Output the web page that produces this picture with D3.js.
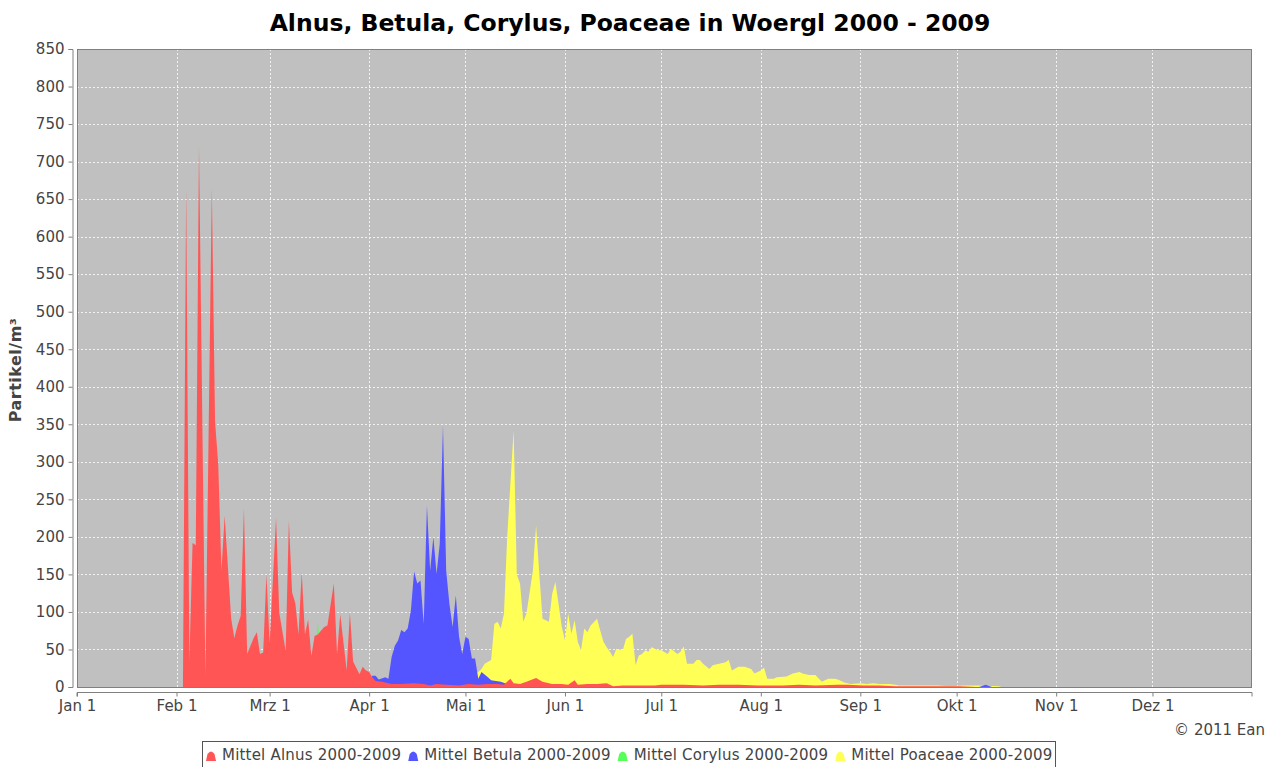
<!DOCTYPE html>
<html>
<head>
<meta charset="utf-8">
<script src="https://cdn.jsdelivr.net/npm/d3@7"></script>
<style>
  body { margin: 0; background: #fff; }
  text { font-family: "DejaVu Sans", sans-serif; }
</style>
</head>
<body>
<svg width="1274" height="767"></svg>
<script>
// day of year (0 = Jan 1, leap year) and mean particles per m³
var alnus = [[32,0],[33,0],[34,664],[35,34],[36,192],[37,189],[38,720],[40,15],[42,664],[43,354],[44,296],
  [45,155],[46,228],[48,92],[49,65],[50,82],[51,95],[52,238],[53,44],[55,65],[56,73],[57,44],[58,46],[59,150],
  [60,58],[62,225],[63,99],[65,48],[66,221],[67,126],[68,112],[69,70],[70,153],[71,70],[72,90],[73,41],[74,68],
  [75,70],[77,80],[78,82],[80,138],[81,44],[82,97],[84,22],[85,99],[86,34],[88,17],[89,27],[90,22],[91,20],
  [92,13],[93,8],[95,7],[98,4],[101,4],[105,5],[108,4],[110,2],[112,4],[115,3],[119,2],[122,4],[125,3],[128,4],
  [131,4],[133,3],[135,11],[136,5],[138,4],[140,7],[143,12],[145,7],[148,4],[151,4],[153,3],[155,9],[156,3],
  [159,4],[162,4],[165,5],[167,1],[170,2],[175,2],[180,2],[182,3],[185,3],[189,3],[195,2],[200,3],[206,3],
  [212,2],[220,2],[225,3],[230,2],[237,3],[240,3],[245,2],[250,2],[255,1],[265,1],[275,1],[280,0]];

var betula = [[90,0],[92,15],[93,15],[94,10],[96,13],[97,11],[98,40],[99,55],[100,62],[101,76],[102,73],
  [103,78],[104,102],[105,154],[106,138],[107,142],[108,84],[109,242],[110,155],[111,200],[112,151],[113,191],
  [114,348],[115,155],[116,111],[117,80],[118,122],[119,67],[120,44],[121,67],[122,64],[123,38],[124,38],
  [125,11],[126,20],[128,13],[129,9],[132,7],[134,4],[136,2],[138,0],[281,0],[283,3],[285,0]];

var corylus = [[36,0],[38,5],[40,8],[50,10],[60,12],[70,15],[74,30],[75,88],[76,40],[80,10],[84,8],[90,4],
  [100,0],[222,0],[224,3],[226,0]];

var poaceae = [[121,0],[123,10],[124,18],[125,20],[126,24],[127,31],[129,36],[130,84],[131,87],[132,78],
  [133,98],[134,200],[136,342],[137,150],[138,138],[139,87],[140,98],[142,155],[143,215],[144,151],[145,91],
  [147,87],[148,124],[149,140],[150,111],[151,80],[152,62],[153,98],[154,71],[155,89],[156,60],[157,49],
  [158,78],[159,73],[160,82],[162,91],[163,75],[164,60],[165,53],[166,47],[167,40],[168,51],[170,49],[171,64],
  [172,67],[173,71],[174,29],[175,42],[176,44],[177,49],[178,47],[179,53],[181,49],[182,49],[184,44],[185,51],
  [187,44],[188,47],[189,54],[190,31],[192,31],[193,36],[194,36],[195,31],[197,24],[198,29],[200,31],[202,33],
  [203,36],[204,22],[206,27],[208,27],[210,24],[211,18],[213,22],[214,26],[215,11],[217,11],[218,13],[221,14],
  [223,18],[225,20],[226,18],[228,16],[230,16],[232,7],[234,11],[236,11],[237,10],[239,6],[241,4],[244,5],
  [246,4],[248,5],[250,4],[253,4],[255,3],[256,2],[262,2],[268,2],[272,1],[276,2],[281,2],[287,1],[288,0]];

var seriesNames = ["Mittel Alnus 2000-2009", "Mittel Betula 2000-2009", "Mittel Corylus 2000-2009", "Mittel Poaceae 2000-2009"];
var seriesColors = ["#ff5555", "#5555ff", "#55ff55", "#ffff55"];
var monthLabels = ["Jan 1", "Feb 1", "Mrz 1", "Apr 1", "Mai 1", "Jun 1", "Jul 1", "Aug 1", "Sep 1", "Okt 1", "Nov 1", "Dez 1"];

var svg = d3.select("svg"),
    plotLeft = 77, plotRight = 1252, plotTop = 49, plotBottom = 687;

var start = new Date(2000, 0, 1),
    end = new Date(2001, 0, 1);
var x = d3.scaleTime().domain([start, end]).range([plotLeft, plotRight]);
var y = d3.scaleLinear().domain([0, 850]).range([plotBottom, plotTop]);
var day = function(d) { return x(d3.timeDay.offset(start, d[0])); };

// plot background
svg.append("rect").attr("x", plotLeft).attr("y", plotTop)
    .attr("width", plotRight - plotLeft).attr("height", plotBottom - plotTop).attr("fill", "#c0c0c0");

var months = d3.timeMonth.range(start, end);

// grid
svg.append("g").selectAll("line").data(y.ticks(17))
  .enter().append("line")
    .attr("x1", plotLeft).attr("x2", plotRight)
    .attr("y1", function(d) { return Math.round(y(d)) + 0.5; }).attr("y2", function(d) { return Math.round(y(d)) + 0.5; })
    .attr("stroke", "#f2f2f2").attr("stroke-dasharray", "2,2");
svg.append("g").selectAll("line").data(months)
  .enter().append("line")
    .attr("x1", function(d) { return Math.round(x(d)) + 0.5; }).attr("x2", function(d) { return Math.round(x(d)) + 0.5; })
    .attr("y1", plotTop).attr("y2", plotBottom)
    .attr("stroke", "#f2f2f2").attr("stroke-dasharray", "2,2");

svg.append("clipPath").attr("id", "plot").append("rect")
    .attr("x", plotLeft).attr("y", plotTop).attr("width", plotRight - plotLeft).attr("height", plotBottom - plotTop);

var area = d3.area().x(day).y0(y(0)).y1(function(d) { return y(d[1]); });

// JFreeChart draws the first series on top
var series = [alnus, betula, corylus, poaceae];
svg.append("g").attr("clip-path", "url(#plot)").selectAll("path")
    .data([3, 2, 1, 0])
  .enter().append("path")
    .attr("d", function(i) { return area(series[i]); })
    .attr("fill", function(i) { return seriesColors[i]; });

// plot outline
svg.append("rect").attr("x", plotLeft + 0.5).attr("y", plotTop + 0.5)
    .attr("width", plotRight - plotLeft - 1).attr("height", plotBottom - plotTop)
    .attr("fill", "none").attr("stroke", "#808080");

// axes
var yAxis = svg.append("g").attr("transform", "translate(72.5,0)")
    .call(d3.axisLeft(y).ticks(17).tickSize(4).tickPadding(4));
var xAxis = svg.append("g").attr("transform", "translate(0,692.5)")
    .call(d3.axisBottom(x).tickValues(months).tickSize(4).tickPadding(4)
      .tickFormat(function(d, i) { return monthLabels[i]; }));
[yAxis, xAxis].forEach(function(a) {
  a.select(".domain").attr("stroke", "#808080");
  a.selectAll(".tick line").attr("stroke", "#808080");
  a.selectAll(".tick text").attr("fill", "#444").style("font-size", "15px");
});
xAxis.select(".domain").attr("d", "M" + plotLeft + ",4V0H" + plotRight + "V4");

// titles
svg.append("text").attr("x", 630).attr("y", 31).attr("text-anchor", "middle")
    .style("font-size", "23.5px").style("font-weight", "bold").attr("fill", "#000")
    .text("Alnus, Betula, Corylus, Poaceae in Woergl 2000 - 2009");
svg.append("text").attr("transform", "translate(21,370) rotate(-90)").attr("text-anchor", "middle")
    .style("font-size", "16px").style("font-weight", "bold").style("letter-spacing", "0.5px").attr("fill", "#444")
    .text("Partikel/m³");
svg.append("text").attr("x", 1265).attr("y", 735).attr("text-anchor", "end")
    .style("font-size", "15px").attr("fill", "#444").text("© 2011 Ean");

// legend
var legend = svg.append("g");
legend.append("rect").attr("x", 202.5).attr("y", 741.5).attr("width", 853).attr("height", 30)
    .attr("fill", "#fff").attr("stroke", "#555");
var lx = 206;
seriesNames.forEach(function(name, i) {
  var g = legend.append("g").attr("transform", "translate(" + lx + ",749)");
  g.append("path").attr("d", "M0,12L1.5,5Q5,0 8.5,5L10,12Z").attr("fill", seriesColors[i]);
  var t = g.append("text").attr("x", 16).attr("y", 11).style("font-size", "15px")
      .style("letter-spacing", "0.2px").attr("fill", "#444").text(name);
  lx += 16 + t.node().getComputedTextLength() + 7;
});
</script>
</body>
</html>
